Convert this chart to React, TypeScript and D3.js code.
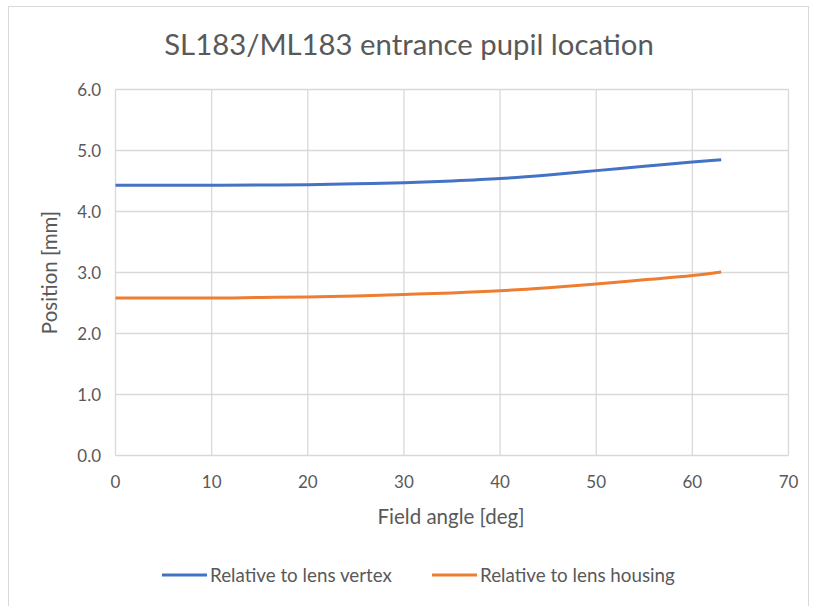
import React from 'react';
import * as d3 from 'd3';

const angles = [0, 5, 10, 15, 20, 25, 30, 35, 40, 45, 50, 55, 60, 63];
const vertex = [4.43, 4.43, 4.43, 4.435, 4.44, 4.455, 4.47, 4.5, 4.54, 4.6, 4.67, 4.74, 4.81, 4.85];
const housing = [2.58, 2.58, 2.58, 2.59, 2.6, 2.615, 2.64, 2.665, 2.7, 2.75, 2.81, 2.88, 2.95, 3.01];
const xTicks = [0, 10, 20, 30, 40, 50, 60, 70];
const yTicks = [0, 1, 2, 3, 4, 5, 6];
const seriesNames = ['Relative to lens vertex', 'Relative to lens housing'];
const seriesColors = ['#4472C4', '#ED7D31'];

const W = 813;
const H = 606;
const font = 'Lato, Open Sans, sans-serif';
const textColor = '#595959';

export default function App() {
  const x = d3.scaleLinear().domain([0, 70]).range([115.5, 788.5]);
  const y = d3.scaleLinear().domain([0, 6]).range([455.5, 89.5]);

  const line = d3
    .line<number>()
    .x((_, i) => x(angles[i]))
    .y((d) => y(d))
    .curve(d3.curveMonotoneX);

  const series = [vertex, housing];

  return (
    <svg
      width={W}
      height={H}
      style={{ position: 'absolute', left: 0, top: 0, background: '#fff' }}
    >
      <rect x={8.5} y={6.5} width={800} height={640} fill="#fff" stroke="#d9d9d9" />
      <text
        x={409}
        y={55}
        textAnchor="middle"
        fontFamily={font}
        fontSize={29.3}
        fill={textColor}
      >
        SL183/ML183 entrance pupil location
      </text>

      {yTicks.map((t) => (
        <line key={'gy' + t} x1={x(0)} x2={x(70)} y1={y(t)} y2={y(t)} stroke="#d9d9d9" strokeWidth={1.3} />
      ))}
      {xTicks.map((t) => (
        <line key={'gx' + t} x1={x(t)} x2={x(t)} y1={y(0)} y2={y(6)} stroke="#d9d9d9" strokeWidth={1.3} />
      ))}

      {yTicks.map((t) => (
        <text
          key={'ty' + t}
          x={101}
          y={y(t) + 6}
          textAnchor="end"
          fontFamily={font}
          fontSize={17}
          fill={textColor}
        >
          {d3.format('.1f')(t)}
        </text>
      ))}
      {xTicks.map((t) => (
        <text
          key={'tx' + t}
          x={x(t)}
          y={488}
          textAnchor="middle"
          fontFamily={font}
          fontSize={17}
          fill={textColor}
        >
          {t}
        </text>
      ))}

      <text x={451} y={524} textAnchor="middle" fontFamily={font} fontSize={20.5} fill={textColor}>
        Field angle [deg]
      </text>
      <text
        transform={`translate(57, ${y(3)}) rotate(-90)`}
        textAnchor="middle"
        fontFamily={font}
        fontSize={20.5}
        fill={textColor}
      >
        Position [mm]
      </text>

      {series.map((s, i) => (
        <path key={'s' + i} d={line(s) || ''} fill="none" stroke={seriesColors[i]} strokeWidth={3} />
      ))}

      {seriesNames.map((name, i) => {
        const lx = i === 0 ? 162 : 432;
        return (
          <g key={'l' + i}>
            <line x1={lx} x2={lx + 45} y1={575} y2={575} stroke={seriesColors[i]} strokeWidth={3} />
            <text x={lx + 48} y={581.5} fontFamily={font} fontSize={18.8} fill={textColor}>
              {name}
            </text>
          </g>
        );
      })}
    </svg>
  );
}
